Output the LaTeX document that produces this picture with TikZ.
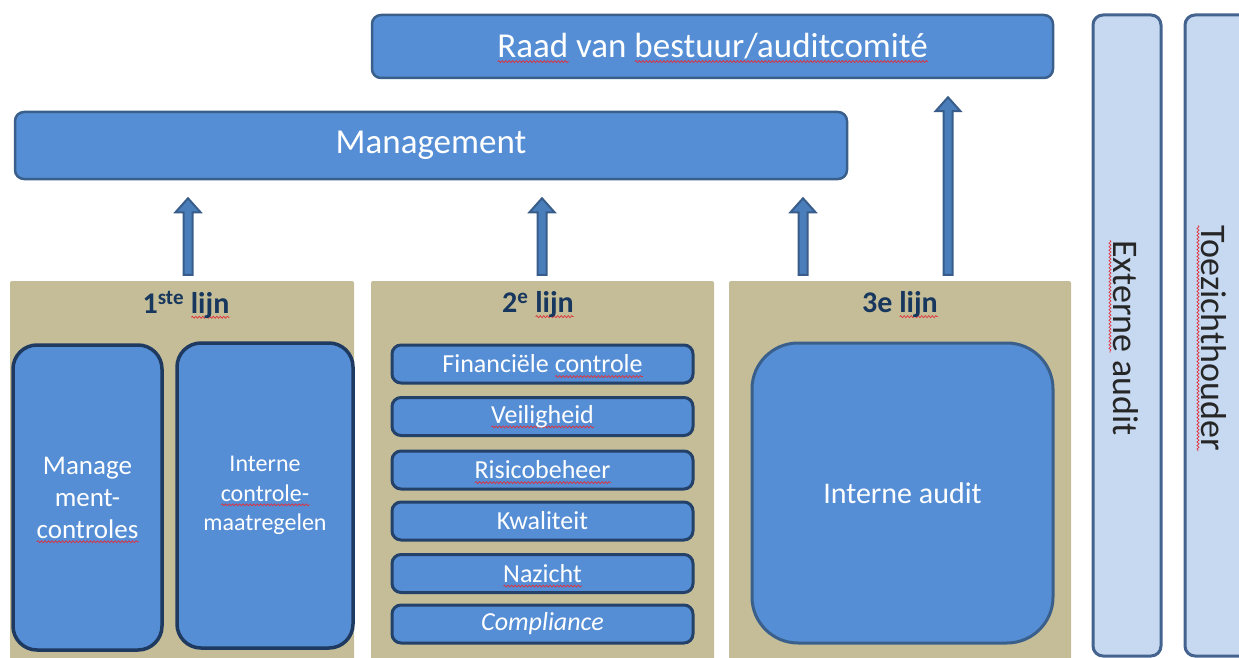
\documentclass[tikz,border=0pt]{standalone}
\usepackage{fontspec}
\setmainfont{Carlito}
\usetikzlibrary{calc,decorations.pathmorphing}

\definecolor{boxblue}{HTML}{558ED5}
\definecolor{boxedge}{HTML}{3A5F8B}
\definecolor{deepedge}{HTML}{1F3A60}
\definecolor{tanpanel}{HTML}{C4BD97}
\definecolor{titlenavy}{HTML}{17375E}
\definecolor{paleblue}{HTML}{C6D9F1}
\definecolor{paleedge}{HTML}{44648F}
\definecolor{arrowfill}{HTML}{4A7EBB}
\definecolor{arrowedge}{HTML}{385D8A}
\definecolor{spellred}{HTML}{E0303A}
\definecolor{coltext}{HTML}{262626}

% red wavy underline (spell-check marks), drawn under a word
\newcommand\spell[1]{\leavevmode\setbox0\hbox{#1}%
  \rlap{\smash{\lower5pt\hbox{\tikz[x=1pt,y=1pt]\draw[spellred, line width=0.7pt,
      sharp corners, fill=none, decorate,
      decoration={snake, amplitude=1pt, segment length=3.5pt}]
      (0,0) -- (\the\wd0,0);}}}\box0\relax}

% upward block arrow from a panel to a box: x position, source, target
\newcommand\liftarrow[3]{%
  \path[liftarrow] let \p1=(#1,0), \p2=(#2.north), \p3=(#3.south) in
    (\x1-4.5pt,\y2+6pt) -- (\x1-4.5pt,\y3-32pt) -- (\x1-12.5pt,\y3-32pt)
    -- (\x1,\y3-18pt) -- (\x1+12.5pt,\y3-32pt) -- (\x1+4.5pt,\y3-32pt)
    -- (\x1+4.5pt,\y2+6pt) -- cycle;}

\begin{document}
\begin{tikzpicture}[x=1pt,y=-1pt,
  headbox/.style={draw=boxedge, line width=2.5pt, fill=boxblue, rounded corners=9pt,
    text=white, inner sep=0pt, font=\fontsize{35}{40}\selectfont},
  panel/.style={fill=tanpanel, rounded corners=2pt, inner sep=0pt},
  paneltitle/.style={text=titlenavy, font=\bfseries\fontsize{30}{32}\selectfont, inner sep=0pt},
  tallbox/.style={draw=deepedge, line width=3.5pt, fill=boxblue, rounded corners=24pt,
    text=white, inner sep=0pt, align=center},
  itembox/.style={draw=deepedge!80!boxedge, line width=3pt, fill=boxblue, rounded corners=9pt,
    text=white, inner sep=0pt, minimum width=301pt, minimum height=38pt,
    font=\fontsize{26}{30}\selectfont},
  auditbox/.style={draw=boxedge, line width=3pt, fill=boxblue, rounded corners=46pt,
    text=white, inner sep=0pt, font=\fontsize{30}{34}\selectfont},
  column/.style={draw=paleedge, line width=3pt, fill=paleblue, rounded corners=10pt,
    inner sep=0pt},
  columntext/.style={text=coltext, rotate=-90, inner sep=0pt,
    font=\fontsize{36}{40}\selectfont},
  liftarrow/.style={draw=arrowedge, line width=2pt, fill=arrowfill, line join=miter}
]
\useasboundingbox (0,0) rectangle (1239,658);

% top level
\node[headbox, minimum width=681pt, minimum height=63pt] (raad) at (712.5,46.5)
  {\spell{Raad} van \spell{bestuur/auditcomité}};
\node[headbox, minimum width=832pt, minimum height=67pt] (mgmt) at (431,145.5)
  {Management};

% the three lines of defence
\node[panel, minimum width=344pt, minimum height=381pt] (p1) at (182,471.5) {};
\node[panel, minimum width=343pt, minimum height=381pt] (p2) at (542.5,471.5) {};
\node[panel, minimum width=342pt, minimum height=381pt] (p3) at (900,471.5) {};

\node[paneltitle] (t1) at (186,305) {1\textsuperscript{ste} \spell{lijn}};
\node[paneltitle] (t2) at (538,305) {2\textsuperscript{e} \spell{lijn}};
\node[paneltitle] (t3) at (900,305) {3e \spell{lijn}};

% first line
\node[tallbox, minimum width=149pt, minimum height=305pt,
  font=\fontsize{27}{32}\selectfont] (mc) at (87.5,497.5)
  {Manage\\ment-\\\spell{controles}};
\node[tallbox, minimum width=176pt, minimum height=305pt,
  font=\fontsize{24}{29.5}\selectfont] (icm) at (265,495.5)
  {Interne\\\spell{controle-}\\maatregelen};

% second line
\node[itembox] (fin) at (542.5,364)   {Financiële \spell{controle}};
\node[itembox] (vei) at (542.5,416.5) {\spell{Veiligheid}};
\node[itembox] (ris) at (542.5,470)   {\spell{Risicobeheer}};
\node[itembox] (kwa) at (542.5,521)   {Kwaliteit};
\node[itembox] (naz) at (542.5,573.5) {\spell{Nazicht}};
\node[itembox] (com) at (542.5,624)   {\itshape Compliance};

% third line
\node[auditbox, minimum width=301pt, minimum height=300pt] (ia) at (902.5,493)
  {Interne audit};

% external parties
\node[column, minimum width=68pt, minimum height=641pt] (ext) at (1127,335.5) {};
\node[columntext] (extlabel) at (1126,338) {\spell{Externe} audit};
\node[column, minimum width=70pt, minimum height=641pt] (toe) at (1220,335.5) {};
\node[columntext] (toelabel) at (1214,338) {\spell{Toezichthouder}};

% reporting arrows
\liftarrow{188}{p1}{mgmt}
\liftarrow{542}{p2}{mgmt}
\liftarrow{803}{p3}{mgmt}
\liftarrow{948}{p3}{raad}
\end{tikzpicture}
\end{document}
